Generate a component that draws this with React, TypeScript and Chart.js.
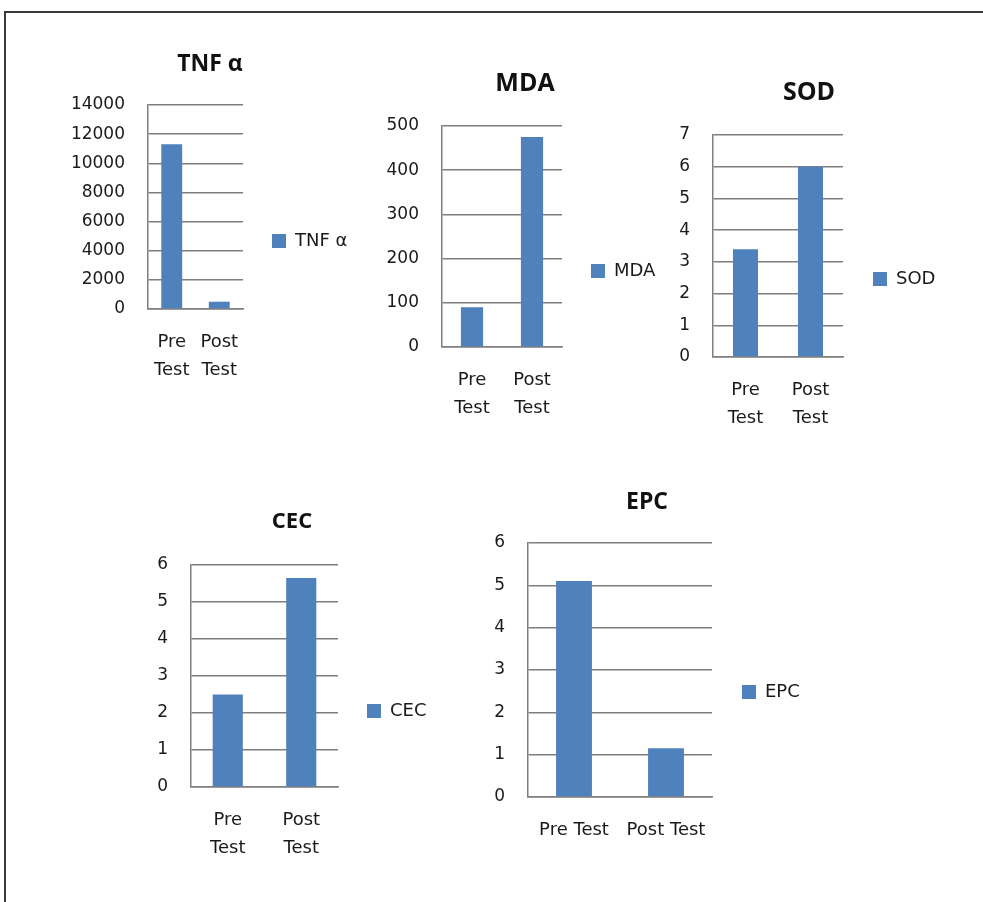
import React, { useEffect, useRef } from 'react';
import { Chart, registerables } from 'chart.js';

Chart.register(...registerables);

// ---------- data ----------
const CATEGORIES_STACKED = [['Pre', 'Test'], ['Post', 'Test']];
const CATEGORIES_INLINE = ['Pre Test', 'Post Test'];

const TNF_VALUES = [11300, 500];
const MDA_VALUES = [90, 475];
const SOD_VALUES = [3.4, 6.0];
const CEC_VALUES = [2.5, 5.65];
const EPC_VALUES = [5.1, 1.15];

const TNF_TICKS = [0, 2000, 4000, 6000, 8000, 10000, 12000, 14000];
const MDA_TICKS = [0, 100, 200, 300, 400, 500];
const SOD_TICKS = [0, 1, 2, 3, 4, 5, 6, 7];
const CEC_TICKS = [0, 1, 2, 3, 4, 5, 6];
const EPC_TICKS = [0, 1, 2, 3, 4, 5, 6];

const SERIES_NAMES = ['TNF α', 'MDA', 'SOD', 'CEC', 'EPC'];

// ---------- styles ----------
const BAR_COLOR = '#4F81BD';
const GRID_COLOR = '#7e7e7e';
const TEXT_COLOR = '#1a1a1a';
const TITLE_FONT = "'Open Sans', 'DejaVu Sans', sans-serif";
const BODY_FONT = "'DejaVu Sans', sans-serif";

// ---------- layout (page coordinates of plot box, title centre, legend) ----------
type Layout = {
  plotLeft: number; plotRight: number; plotTop: number; plotBottom: number;
  titleX: number; titleY: number; titleSize: number;
  legendX: number; legendY: number; barPct: number;
};

const LAYOUTS: Layout[] = [
  { plotLeft: 148, plotRight: 243, plotTop: 105, plotBottom: 309, titleX: 210, titleY: 65, titleSize: 23, legendX: 272, legendY: 241, barPct: 0.44 },
  { plotLeft: 442, plotRight: 562, plotTop: 126, plotBottom: 347, titleX: 525, titleY: 84, titleSize: 25, legendX: 591, legendY: 271, barPct: 0.37 },
  { plotLeft: 713, plotRight: 843, plotTop: 135, plotBottom: 357, titleX: 809, titleY: 93, titleSize: 25, legendX: 873, legendY: 279, barPct: 0.385 },
  { plotLeft: 191, plotRight: 338, plotTop: 565, plotBottom: 787, titleX: 292, titleY: 522, titleSize: 22, legendX: 367, legendY: 711, barPct: 0.41 },
  { plotLeft: 528, plotRight: 712, plotTop: 543, plotBottom: 797, titleX: 647, titleY: 503, titleSize: 23, legendX: 742, legendY: 692, barPct: 0.39 },
];

type Panel = { name: string; categories: any[]; values: number[]; ticks: number[]; layout: Layout };

const PANELS: Panel[] = [
  { name: SERIES_NAMES[0], categories: CATEGORIES_STACKED, values: TNF_VALUES, ticks: TNF_TICKS, layout: LAYOUTS[0] },
  { name: SERIES_NAMES[1], categories: CATEGORIES_STACKED, values: MDA_VALUES, ticks: MDA_TICKS, layout: LAYOUTS[1] },
  { name: SERIES_NAMES[2], categories: CATEGORIES_STACKED, values: SOD_VALUES, ticks: SOD_TICKS, layout: LAYOUTS[2] },
  { name: SERIES_NAMES[3], categories: CATEGORIES_STACKED, values: CEC_VALUES, ticks: CEC_TICKS, layout: LAYOUTS[3] },
  { name: SERIES_NAMES[4], categories: CATEGORIES_INLINE, values: EPC_VALUES, ticks: EPC_TICKS, layout: LAYOUTS[4] },
];

function computeGeom(g: Layout) {
  const yW = 95;
  const L = g.plotLeft - yW;
  const W = Math.round(2 * (g.titleX - L));
  const LW = W - (g.plotRight - L);
  const T = Math.round(g.titleY - 0.6 * g.titleSize);
  const lineH = 1.2 * g.titleSize;
  const titlePadBottom = g.plotTop - T - lineH;
  const H = Math.round(2 * (g.legendY - T));
  const xH = T + H - g.plotBottom;
  const legendPad = g.legendX - g.plotRight;
  return { L, T, W, H, yW, LW, titlePadBottom, xH, legendPad };
}

function BarPanel({ panel }: { panel: Panel }) {
  const ref = useRef<HTMLCanvasElement | null>(null);
  const g = computeGeom(panel.layout);

  useEffect(() => {
    const canvas = ref.current;
    if (!canvas) return;
    const fixLegendWidth = {
      id: 'fixLegendWidth',
      afterInit(chart: any) {
        const lg = chart.legend;
        if (!lg) return;
        const fit = lg.fit.bind(lg);
        lg.fit = function () {
          fit();
          lg.width = g.LW;
        };
      },
    };
    const ticks = panel.ticks;
    const chart = new Chart(canvas, {
      type: 'bar',
      data: {
        labels: panel.categories,
        datasets: [
          {
            label: panel.name,
            data: panel.values,
            backgroundColor: BAR_COLOR,
            borderWidth: 0,
            barPercentage: panel.layout.barPct,
            categoryPercentage: 1,
          },
        ],
      },
      options: {
        responsive: false,
        animation: false,
        devicePixelRatio: 1,
        layout: { padding: 0 },
        plugins: {
          title: {
            display: true,
            text: panel.name,
            color: '#111',
            font: { family: TITLE_FONT, size: panel.layout.titleSize, weight: 'bold' },
            padding: { top: 0, bottom: g.titlePadBottom },
          },
          legend: {
            display: true,
            position: 'right',
            align: 'center',
            labels: {
              boxWidth: 14,
              boxHeight: 14,
              padding: g.legendPad,
              color: TEXT_COLOR,
              font: { family: BODY_FONT, size: 18 },
            },
          },
          tooltip: { enabled: false },
        },
        scales: {
          x: {
            grid: { display: false, drawTicks: false },
            border: { display: true, color: GRID_COLOR, width: 1.5 },
            ticks: {
              color: TEXT_COLOR,
              font: { family: BODY_FONT, size: 18, lineHeight: 1.55 },
              padding: 19,
              maxRotation: 0,
              minRotation: 0,
              autoSkip: false,
            },
            afterFit: (s: any) => {
              s.height = g.xH;
            },
          },
          y: {
            min: ticks[0],
            max: ticks[ticks.length - 1],
            afterBuildTicks: (s: any) => {
              s.ticks = ticks.map((v) => ({ value: v }));
            },
            grid: { color: GRID_COLOR, lineWidth: 1.5, drawTicks: false },
            border: { display: true, color: GRID_COLOR, width: 1.5 },
            ticks: {
              color: TEXT_COLOR,
              font: { family: BODY_FONT, size: 17 },
              padding: 23,
              callback: (v: any) => String(v),
            },
            afterFit: (s: any) => {
              s.width = g.yW;
            },
          },
        },
      } as any,
      plugins: [fixLegendWidth],
    });
    return () => chart.destroy();
  }, []);

  return (
    <canvas
      ref={ref}
      width={g.W}
      height={g.H}
      style={{ position: 'absolute', left: g.L, top: g.T, width: g.W, height: g.H }}
    />
  );
}

export default function App() {
  return (
    <div
      style={{
        position: 'absolute',
        left: 0,
        top: 0,
        width: 983,
        height: 902,
        overflow: 'hidden',
        background: '#ffffff',
      }}
    >
      <div
        style={{
          position: 'absolute',
          left: 4,
          top: 11,
          right: -4,
          bottom: -4,
          borderTop: '2px solid #3a3a3a',
          borderLeft: '2px solid #3a3a3a',
        }}
      />
      {PANELS.map((p) => (
        <BarPanel key={p.name} panel={p} />
      ))}
    </div>
  );
}
